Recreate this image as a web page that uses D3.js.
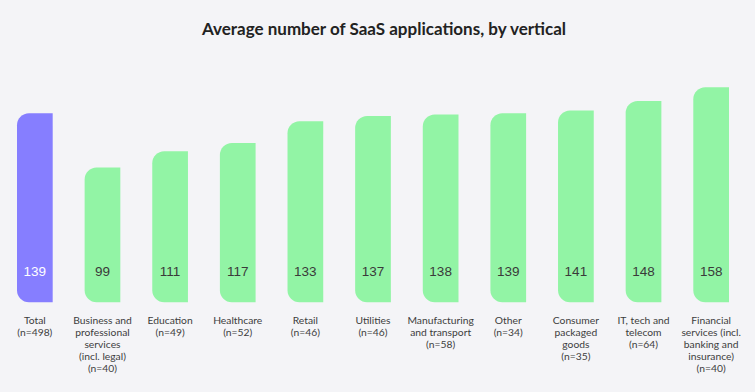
<!DOCTYPE html>
<html>
<head>
<meta charset="utf-8">
<script src="https://cdn.jsdelivr.net/npm/d3@7"></script>
<style>
  body { margin: 0; background: #f4f4f7; }
  svg { display: block; }
</style>
</head>
<body>
<div id="chart"></div>
<script>
var categories = ["Total", "Business", "Education", "Healthcare", "Retail", "Utilities",
    "Manufacturing", "Other", "Consumer", "IT", "Financial"];
var values = [139, 99, 111, 117, 133, 137, 138, 139, 141, 148, 158];
var tickLabels = [
    ["Total", "(n=498)"],
    ["Business and", "professional", "services", "(incl. legal)", "(n=40)"],
    ["Education", "(n=49)"],
    ["Healthcare", "(n=52)"],
    ["Retail", "(n=46)"],
    ["Utilities", "(n=46)"],
    ["Manufacturing", "and transport", "(n=58)"],
    ["Other", "(n=34)"],
    ["Consumer", "packaged", "goods", "(n=35)"],
    ["IT, tech and", "telecom", "(n=64)"],
    ["Financial", "services (incl.", "banking and", "insurance)", "(n=40)"]
];

function drawChart(){
    var width = 755;
    var height = 392;
    var radius = 12;

    var svg = d3.select("#chart").append("svg")
        .attr("width", width)
        .attr("height", height);

    svg.append("rect")
        .attr("width", width)
        .attr("height", height)
        .attr("fill", "#f4f4f7");

    var x = d3.scaleBand()
        .domain(categories)
        .range([17, 729])
        .paddingInner(0.472)
        .paddingOuter(0);

    var y = d3.scaleLinear()
        .domain([0, 158])
        .range([302.3, 87.3]);

    /*****************  Title **********************/
    svg.append("text")
        .attr("x", 384)
        .attr("y", 35)
        .attr("text-anchor", "middle")
        .attr("font-family", "Lato, 'Open Sans', sans-serif")
        .attr("font-weight", "bold")
        .attr("font-size", "17px")
        .attr("fill", "#222")
        .text("Average number of SaaS applications, by vertical");

    /*****************  Bars **********************/
    function barPath(d, i){
        var x0 = x(categories[i]);
        var x1 = x0 + x.bandwidth();
        var y0 = y(d);
        var y1 = y(0);
        return "M" + x1 + "," + y0 +
            "L" + (x0 + radius) + "," + y0 +
            "A" + radius + "," + radius + " 0 0 0 " + x0 + "," + (y0 + radius) +
            "L" + x0 + "," + (y1 - radius) +
            "A" + radius + "," + radius + " 0 0 0 " + (x0 + radius) + "," + y1 +
            "L" + x1 + "," + y1 + "Z";
    }

    svg.selectAll(".bar")
        .data(values)
        .enter()
        .append("path")
        .attr("class", "bar")
        .attr("d", barPath)
        .attr("fill", function (d, i){
            return i == 0 ? "#867eff" : "#92f4a5";
        });

    /*****************  Value labels **********************/
    svg.selectAll(".valueText")
        .data(values)
        .enter()
        .append("text")
        .attr("class", "valueText")
        .attr("x", function (d, i){
            return x(categories[i]) + x.bandwidth() / 2;
        })
        .attr("y", y(0) - 26)
        .attr("text-anchor", "middle")
        .attr("font-family", "'Liberation Sans', Arial, sans-serif")
        .attr("font-size", "13.5px")
        .attr("fill", function (d, i){
            return i == 0 ? "#ffffff" : "#3a3a3a";
        })
        .text(function (d){
            return d;
        });

    /*****************  Category labels **********************/
    var labels = svg.selectAll(".catText")
        .data(tickLabels)
        .enter()
        .append("text")
        .attr("class", "catText")
        .attr("text-anchor", "middle")
        .attr("font-family", "Lato, 'Open Sans', sans-serif")
        .attr("font-size", "10.3px")
        .attr("fill", "#3d3d3d");

    labels.selectAll("tspan")
        .data(function (d, i){
            return d.map(function (line){
                return {line: line, cat: categories[i]};
            });
        })
        .enter()
        .append("tspan")
        .attr("x", function (d){
            return x(d.cat) + x.bandwidth() / 2;
        })
        .attr("y", function (d, j){
            return 323.8 + j * 12.1;
        })
        .text(function (d){
            return d.line;
        });
}

drawChart();
</script>
</body>
</html>
